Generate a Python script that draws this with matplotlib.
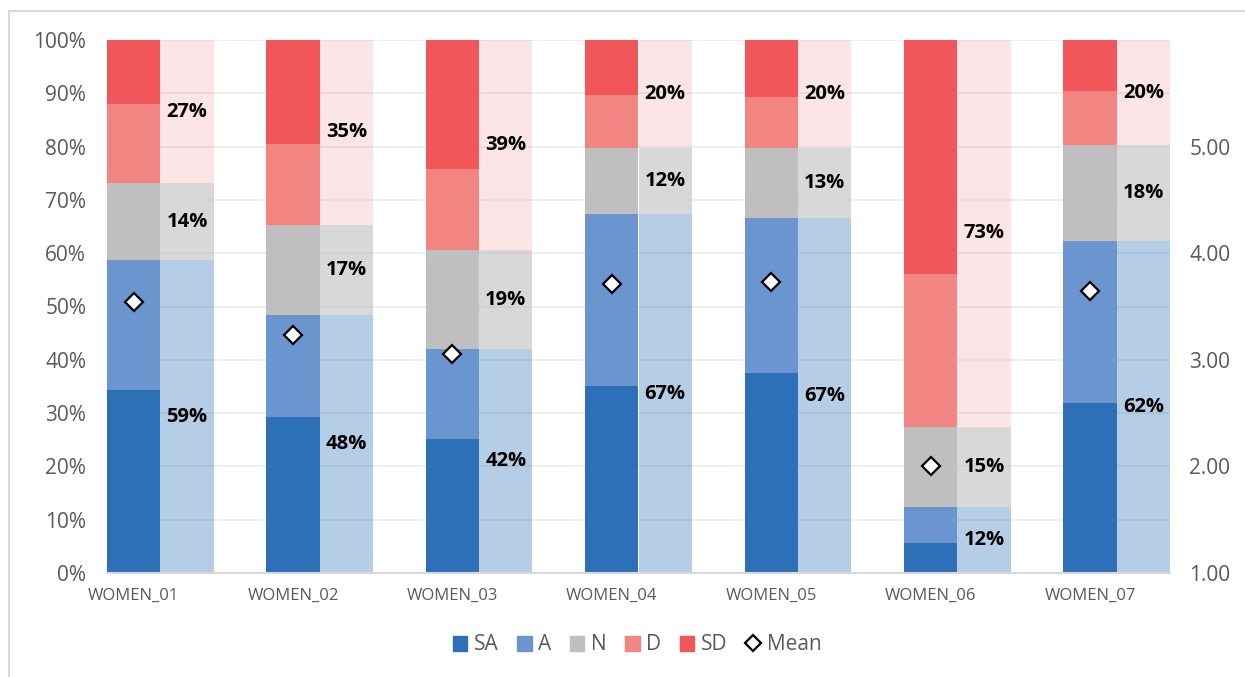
import numpy as np
import matplotlib
matplotlib.use('Agg')
import matplotlib.pyplot as plt
from matplotlib.lines import Line2D
from matplotlib.patches import Patch, Rectangle

plt.rcParams['font.family'] = ['Open Sans', 'DejaVu Sans']

categories = ['WOMEN_01', 'WOMEN_02', 'WOMEN_03', 'WOMEN_04', 'WOMEN_05', 'WOMEN_06', 'WOMEN_07']
sa = [34.3, 29.3, 25.1, 35.1, 37.5, 5.6, 31.9]
a = [24.4, 19.1, 16.9, 32.2, 29.1, 6.8, 30.4]
n = [14.4, 16.9, 18.6, 12.4, 13.1, 15.0, 18.0]
d = [14.9, 15.2, 15.2, 10.0, 9.6, 28.7, 10.2]
sd = [12.0, 19.5, 24.2, 10.3, 10.7, 43.9, 9.5]
mean = [3.54, 3.23, 3.05, 3.71, 3.73, 2.00, 3.65]

c_sa = '#2E70B8'
c_a = '#6A95CE'
c_n = '#BFBFBF'
c_d = '#F28482'
c_sd = '#F0565A'
grey = '#595959'

sa, a, n, d, sd = map(np.array, (sa, a, n, d, sd))
agree = sa + a
disagree = d + sd

fig = plt.figure(figsize=(12.45, 6.77), dpi=100)
fig.patches.append(Rectangle((9 / 1245, -0.1), 1.2, 1 - 11 / 677 + 0.1, transform=fig.transFigure,
                             fill=False, edgecolor='#D9D9D9', linewidth=1.5))
ax = fig.add_axes([107 / 1245, 1 - 573 / 677, (1170 - 107) / 1245, (573 - 40) / 677])

x = np.arange(len(categories))
w = 0.669 / 2

# detailed bars
bottom = np.zeros(len(x))
for vals, col in [(sa, c_sa), (a, c_a), (n, c_n), (d, c_d), (sd, c_sd)]:
    ax.bar(x - w / 2, vals, w, bottom=bottom, color=col, zorder=2)
    bottom += vals

# summary bars (transparent)
bottom = np.zeros(len(x))
for vals, col, al in [(agree, c_sa, 0.35), (n, c_n, 0.6), (disagree, c_sd, 0.15)]:
    ax.bar(x + w / 2, vals, w, bottom=bottom, color=col, alpha=al, zorder=1)
    for xi, b, v in zip(x, bottom, vals):
        ax.text(xi + w / 2, b + v / 2, f'{round(v):d}%', ha='center', va='center',
                fontsize=14.5, fontweight='bold', color='black', zorder=4)
    bottom += vals

ax.set_xlim(-w, len(x) - 1 + w)
ax.set_ylim(0, 100)
ax.set_yticks(np.arange(0, 101, 10))
ax.set_yticklabels([f'{v}%' for v in range(0, 101, 10)])
ax.set_xticks(x - w / 2)
ax.set_xticklabels(categories)
ax.yaxis.grid(True, color='#EBEBEB', linewidth=1.2, zorder=0)
ax.set_axisbelow(True)
for s in ['top', 'right', 'left']:
    ax.spines[s].set_visible(False)
ax.spines['bottom'].set_color('#D9D9D9')
ax.spines['bottom'].set_linewidth(1.5)
ax.tick_params(axis='y', length=0, labelsize=15, labelcolor=grey, pad=15)
ax.tick_params(axis='x', length=0, labelsize=12, labelcolor=grey, pad=11)

ax2 = ax.twinx()
ax2.set_ylim(1, 6)
ax2.set_yticks([1, 2, 3, 4, 5])
ax2.set_yticklabels([f'{v:.2f}' for v in [1, 2, 3, 4, 5]])
ax2.tick_params(axis='y', length=0, labelsize=15, labelcolor=grey, pad=14)
for s in ax2.spines.values():
    s.set_visible(False)
ax2.plot(x - w / 2, mean, linestyle='none', marker='D', markersize=9, markerfacecolor='white',
         markeredgecolor='black', markeredgewidth=1.6, zorder=5)

handles = [Patch(color=c_sa, label='SA'), Patch(color=c_a, label='A'), Patch(color=c_n, label='N'),
           Patch(color=c_d, label='D'), Patch(color=c_sd, label='SD'),
           Line2D([], [], linestyle='none', marker='D', markersize=8, markerfacecolor='white',
                  markeredgecolor='black', markeredgewidth=1.6, label='Mean')]
fig.legend(handles=handles, loc='center', bbox_to_anchor=(637 / 1245, 1 - 645 / 677), ncol=6, frameon=False,
           fontsize=15, labelcolor=grey, handlelength=0.7, handleheight=0.7, handletextpad=0.3,
           columnspacing=0.9)

fig.savefig('out.png', dpi=100)
